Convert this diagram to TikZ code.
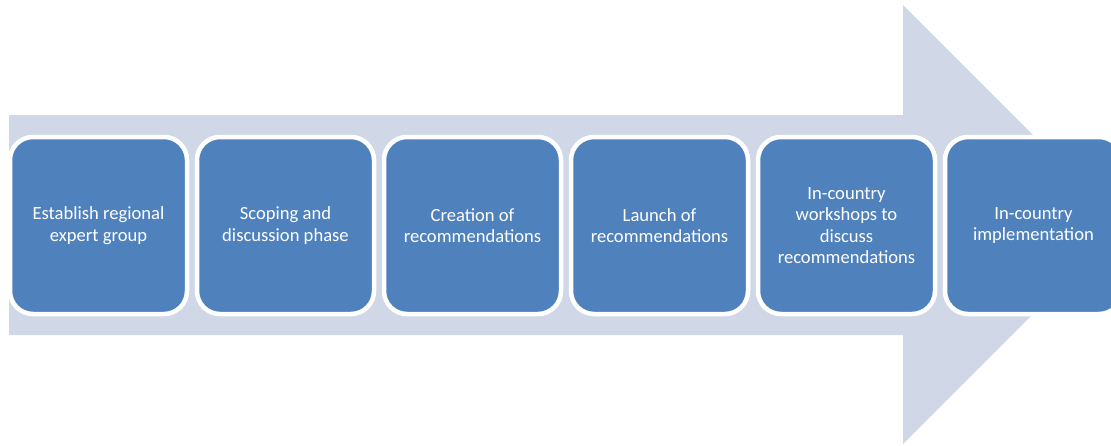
\documentclass[tikz,border=0pt]{standalone}
\usepackage{fontspec}
\setmainfont{Carlito}
\definecolor{shaftcol}{HTML}{D0D8E8}
\definecolor{boxcol}{HTML}{4F81BD}
\begin{document}
\begin{tikzpicture}[x=1pt,y=-1pt,
  stepbox/.style={draw=white, line width=4.5pt, fill=boxcol, rounded corners=23pt,
    minimum width=177pt, minimum height=177pt, inner sep=2pt, align=center,
    text=white, font=\fontsize{18.6}{21.4}\selectfont}]
\useasboundingbox (0,0) rectangle (1111,445);
\clip (0,0) rectangle (1111,445);
\fill[shaftcol] (9,115) -- (903,115) -- (903,5) -- (1122.5,224.5) -- (903,444) -- (903,335) -- (9,335) -- cycle;
\node[stepbox] (s1) at (98.5,225.5) {Establish regional\\expert group};
\node[stepbox] (s2) at (285.5,225.5) {Scoping and\\discussion phase};
\node[stepbox] (s3) at (472.5,225.5) {Creation of\\recommendations};
\node[stepbox] (s4) at (659.5,225.5) {Launch of\\recommendations};
\node[stepbox] (s5) at (846.5,225.5) {In-country\\workshops to\\discuss\\recommendations};
\node[stepbox] (s6) at (1033.5,225.5) {In-country\\implementation};
\end{tikzpicture}
\end{document}
